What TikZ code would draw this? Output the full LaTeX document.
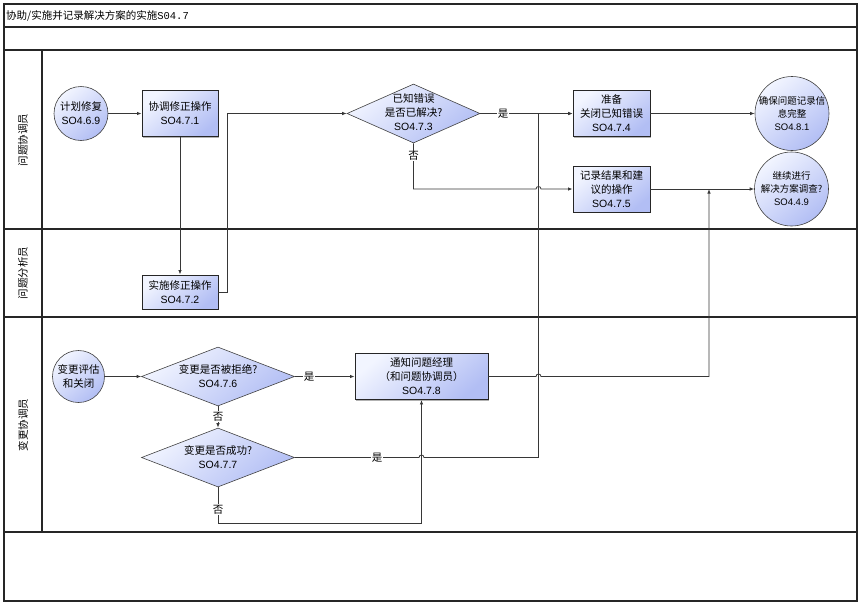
\documentclass[tikz,border=0pt]{standalone}
\usepackage{fontspec}
\setmainfont{Noto Sans CJK SC}
\newfontfamily\lat{Liberation Sans}
\newfontfamily\monof{Liberation Mono}
\usetikzlibrary{arrows.meta,shapes.geometric,shadows}
\definecolor{fillA}{RGB}{242,245,255}
\definecolor{fillB}{RGB}{178,190,244}
\definecolor{edgeC}{RGB}{55,55,55}
\tikzset{
  gridline/.style={draw=black!85, line width=1.1pt},
  shadefill/.style={shading=axis, top color=fillA, bottom color=fillB, shading angle=40},
  box/.style={rectangle, draw=black!85, line width=0.9pt, shadefill, align=center,
    inner sep=0pt, font=\fontsize{10.5}{14}\selectfont,
    drop shadow={shadow xshift=1.3pt, shadow yshift=-1.3pt, fill=black!55, opacity=0.55}},
  circ/.style={circle, draw=black!75, line width=0.6pt, shadefill, inner sep=0pt},
  diam/.style={diamond, draw=black!75, line width=0.6pt, shadefill, inner sep=0pt},
  txt/.style={align=center, inner sep=0pt, font=\fontsize{10.5}{14}\selectfont},
  txts/.style={align=center, inner sep=0pt, font=\fontsize{9.5}{13}\selectfont},
  conn/.style={draw=edgeC, line width=0.8pt, -{Latex[length=4.5pt,width=3.5pt]}},
  plain/.style={draw=edgeC, line width=0.8pt},
  lbl/.style={fill=white, inner sep=0.8pt, font=\fontsize{10.5}{12}\selectfont},
  lanelbl/.style={rotate=90, font=\fontsize{10.5}{12}\selectfont}
}
\begin{document}
\begin{tikzpicture}[x=1pt,y=-1pt]
\useasboundingbox (0,0) rectangle (862,606);
% frame and lanes
\draw[gridline] (4,4) rectangle (857,601);
\draw[gridline] (4,27) -- (857,27);
\draw[gridline] (4,50) -- (857,50);
\draw[gridline] (4,229) -- (857,229);
\draw[gridline] (4,317) -- (857,317);
\draw[gridline] (4,532) -- (857,532);
\draw[gridline] (42,50) -- (42,532);
\node[anchor=west, font=\fontsize{10.5}{12}\selectfont, inner sep=0pt] (title) at (6,15.5) {协助/实施并记录解决方案的实施{\monof S04.7}};
\node[lanelbl] (l1) at (23,140) {问题协调员};
\node[lanelbl] (l2) at (23,273) {问题分析员};
\node[lanelbl] (l3) at (23,425) {变更协调员};

% lane 1
\node[circ, minimum size=54pt] (c1) at (81,113.5) {};
\node[txt] (c1t) at (c1) {计划修复\\{\lat SO4.6.9}};
\node[box, minimum width=76pt, minimum height=46pt] (b1) at (180,113.5) {协调修正操作\\{\lat SO4.7.1}};
\node[diam, minimum width=133pt, minimum height=59pt] (d1) at (413.5,113.5) {};
\node[txt] (d1t) at (413.5,112.5) {已知错误\\是否已解决?\\{\lat SO4.7.3}};
\node[box, minimum width=77pt, minimum height=46pt] (b4) at (611.5,113.5) {准备\\关闭已知错误\\{\lat SO4.7.4}};
\node[box, minimum width=77pt, minimum height=46pt] (b5) at (611.5,189) {记录结果和建\\议的操作\\{\lat SO4.7.5}};
\node[circ, minimum size=74pt] (c2) at (792,113.5) {};
\node[txts] (c2t) at (c2) {确保问题记录信\\息完整\\{\lat SO4.8.1}};
\node[circ, minimum size=74pt] (c3) at (791.5,189) {};
\node[txts] (c3t) at (c3) {继续进行\\解决方案调查?\\{\lat SO4.4.9}};

% lane 2
\node[box, minimum width=76pt, minimum height=34pt] (b2) at (180,292) {实施修正操作\\{\lat SO4.7.2}};

% lane 3
\node[circ, minimum size=52pt] (c4) at (78.5,376.5) {};
\node[txt] (c4t) at (c4) {变更评估\\和关闭};
\node[diam, minimum width=153pt, minimum height=59pt] (d2) at (218,376.5) {};
\node[txt] (d2t) at (d2) {变更是否被拒绝?\\{\lat SO4.7.6}};
\node[box, minimum width=133pt, minimum height=46pt] (b8) at (421.5,376.5) {通知问题经理\\（和问题协调员）\\{\lat SO4.7.8}};
\node[diam, minimum width=153pt, minimum height=59pt] (d3) at (218,457.5) {};
\node[txt] (d3t) at (d3) {变更是否成功?\\{\lat SO4.7.7}};
\coordinate (m1) at (709,189);

% connectors
\draw[conn] (c1) -- (b1);
\draw[conn] (b1) -- (b2);
\draw[conn] (b2.east) -| (227,113.5) -- (d1.west);
\draw[conn] (d1.east) -- (b4.west);
\draw[conn] (d1.south) -- (413.5,189) -- (536,189) .. controls (536,185.7) and (541,185.7) .. (541,189) -- (b5.west);
\draw[conn] (b4) -- (c2);
\draw[conn] (b5) -- (c3);
\draw[conn] (c4) -- (d2);
\draw[conn] (d2.east) -- (b8.west);
\draw[conn] (d2.south) -- (d3.north);
\draw[conn] (d3.east) -- (419,457.5) .. controls (419,454.2) and (424,454.2) .. (424,457.5) -- (538.5,457.5) -- (538.5,113.5) -- (b4.west);
\draw[conn] (d3.south) -- (218,523) -- (421.5,523) -- (b8.south);
\draw[conn] (b8.east) -- (536,376.5) .. controls (536,373.2) and (541,373.2) .. (541,376.5) -- (709,376.5) -- (m1);

% labels
\node[lbl] (y1) at (503,113.5) {是};
\node[lbl] (n1) at (413.5,156) {否};
\node[lbl] (y2) at (309,376.5) {是};
\node[lbl] (n2) at (218,416.5) {否};
\node[lbl] (y3) at (377,457.5) {是};
\node[lbl] (n3) at (218,509.5) {否};
\end{tikzpicture}
\end{document}
